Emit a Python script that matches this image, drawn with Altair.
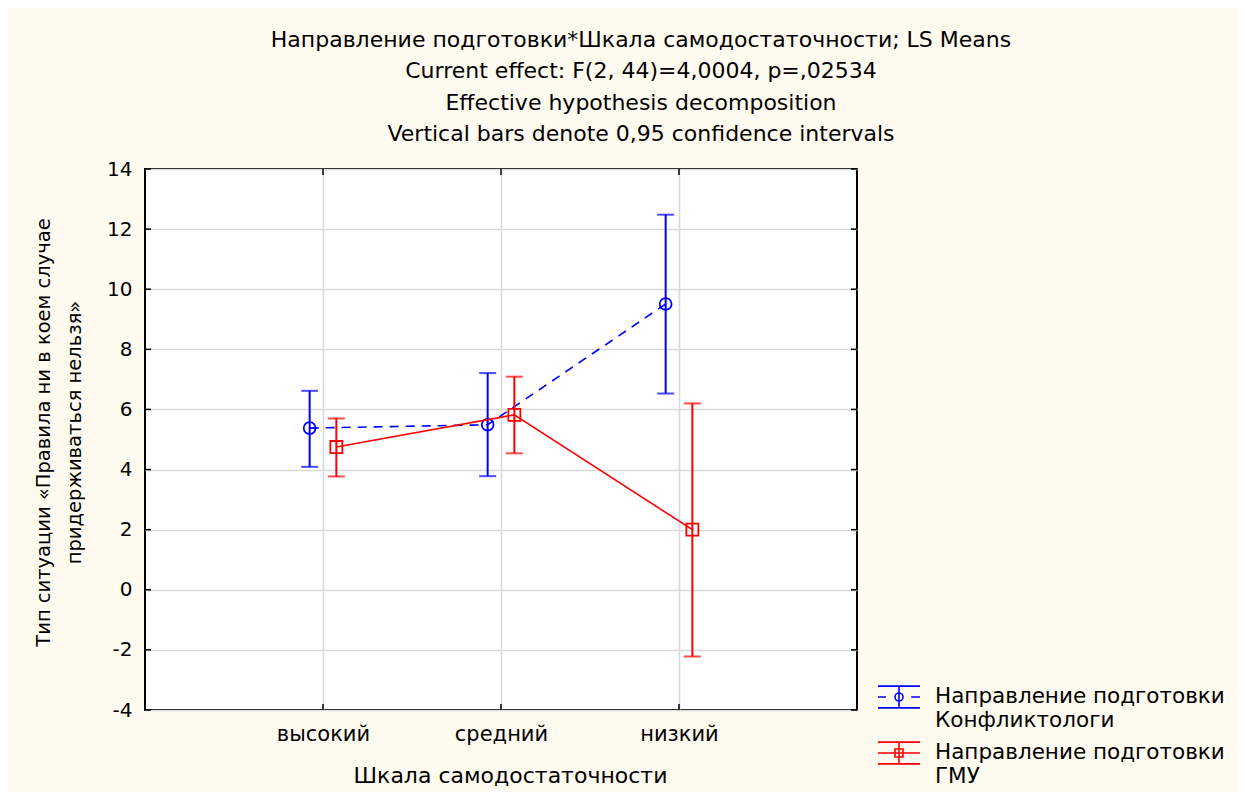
import json
import altair as alt
import pandas as pd

# ---- data ----
categories = ["высокий", "средний", "низкий"]
groups = ["Конфликтологи", "ГМУ"]
konf_mean = [5.38, 5.49, 9.51]
konf_low = [4.09, 3.78, 6.53]
konf_high = [6.62, 7.21, 12.48]
gmu_mean = [4.75, 5.82, 2.00]
gmu_low = [3.77, 4.54, -2.22]
gmu_high = [5.70, 7.09, 6.20]
y_ticks = [-4, -2, 0, 2, 4, 6, 8, 10, 12, 14]
cat_positions = [1, 2, 3]

legend_prefix = "Направление подготовки"
title_lines = [
    "Направление подготовки*Шкала самодостаточности; LS Means",
    "Current effect: F(2, 44)=4,0004, p=,02534",
    "Effective hypothesis decomposition",
    "Vertical bars denote 0,95 confidence intervals",
]
y_title = ["Тип ситуации «Правила ни в коем случае", "придерживаться нельзя»"]
x_title = "Шкала самодостаточности"

BLUE = "#0000FF"
RED = "#FF0000"
FONT = "DejaVu Sans"
offsets = {"Конфликтологи": -0.075, "ГМУ": 0.075}

rows = []
for g, m, lo, hi in [("Конфликтологи", konf_mean, konf_low, konf_high),
                     ("ГМУ", gmu_mean, gmu_low, gmu_high)]:
    for i, c in enumerate(categories):
        rows.append(dict(group=g, label=legend_prefix + "|" + g, cat=c,
                         pos=cat_positions[i] + offsets[g],
                         mean=m[i], low=lo[i], high=hi[i]))
df = pd.DataFrame(rows)
konf = df[df.group == "Конфликтологи"]
gmu = df[df.group == "ГМУ"]
labels = [legend_prefix + "|" + g for g in groups]

ytick_df = pd.DataFrame({"v": y_ticks})
xtick_df = pd.DataFrame({"p": cat_positions})

W, H = 712, 541

label_expr = "[''," + ",".join(json.dumps(c, ensure_ascii=False) for c in categories) + "][datum.value]"

x_scale = alt.Scale(domain=[0, 4], nice=False, zero=False)
y_scale = alt.Scale(domain=[-4, 14], nice=False, zero=False)
x_axis = alt.Axis(values=cat_positions, labelExpr=label_expr, grid=True, ticks=False,
                  domain=False, title=x_title, labelFont=FONT, labelFontSize=21,
                  labelColor="black", labelPadding=13, titleFont=FONT, titleFontSize=22,
                  titleFontWeight="normal", titleColor="black", titleX=365, titleY=65,
                  titleBaseline="middle", titleAlign="center",
                  gridColor="#d9d9d9", gridWidth=1.6)
y_axis = alt.Axis(values=y_ticks, labelExpr="'' + datum.value", grid=True, ticks=False,
                  domain=False, title=y_title,
                  labelFont=FONT, labelFontSize=20, labelColor="black", labelPadding=13,
                  titleFont=FONT, titleFontSize=19.5, titleFontWeight="normal",
                  titleColor="black", titleAngle=270, titleX=-102, titleY=263,
                  titleBaseline="middle", titleAlign="center", titleLineHeight=31,
                  gridColor="#d9d9d9", gridWidth=1.6)


def X(field):
    return alt.X(field, scale=x_scale, axis=x_axis)


def Y(field):
    return alt.Y(field, scale=y_scale, axis=y_axis)


# inner ticks on all four sides
left_ticks = alt.Chart(ytick_df).mark_rule(color="black", strokeWidth=1.5).encode(
    y=Y("v:Q"), x=alt.value(0), x2=alt.value(6))
right_ticks = alt.Chart(ytick_df).mark_rule(color="black", strokeWidth=1.5).encode(
    y=Y("v:Q"), x=alt.value(W - 6), x2=alt.value(W))
top_ticks = alt.Chart(xtick_df).mark_rule(color="black", strokeWidth=1.5).encode(
    x=X("p:Q"), y=alt.value(0), y2=alt.value(6))
bottom_ticks = alt.Chart(xtick_df).mark_rule(color="black", strokeWidth=1.5).encode(
    x=X("p:Q"), y=alt.value(H - 6), y2=alt.value(H))


def series_layers(data, color, shape, size, dash):
    bars = alt.Chart(data).mark_rule(color=color, strokeWidth=2).encode(
        x=X("pos:Q"), y=Y("low:Q"), y2="high:Q")
    cap_lo = alt.Chart(data).mark_tick(color=color, orient="horizontal", size=17,
                                      thickness=2).encode(x=X("pos:Q"), y=Y("low:Q"))
    cap_hi = alt.Chart(data).mark_tick(color=color, orient="horizontal", size=17,
                                      thickness=2).encode(x=X("pos:Q"), y=Y("high:Q"))
    line_kw = dict(color=color, strokeWidth=1.6)
    if dash:
        line_kw["strokeDash"] = dash
    line = alt.Chart(data).mark_line(**line_kw).encode(
        x=X("pos:Q"), y=Y("mean:Q"), order="pos:Q")
    pts = alt.Chart(data).mark_point(shape=shape, filled=False, size=size, color=color,
                                     strokeWidth=1.8, opacity=1).encode(
        x=X("pos:Q"), y=Y("mean:Q"))
    return [bars, cap_lo, cap_hi, line, pts]


# legend glyphs (unit coordinates, x and y in [-1, 1])
path_konf = ("M-1,-0.52H1M-1,0.52H1M0,-0.52V0.52M-1,0H-0.62M0.58,0H1"
             "M-0.19,0A0.19,0.19 0 1,0 0.19,0A0.19,0.19 0 1,0 -0.19,0")
path_gmu = ("M-1,-0.52H1M-1,0.52H1M0,-0.52V0.52M-1,0H1"
            "M-0.19,-0.19H0.19V0.19H-0.19Z")

legend = alt.Legend(title=None, orient="none", legendX=732, legendY=506,
                    symbolSize=1764, symbolStrokeWidth=1.6, symbolOpacity=1,
                    labelExpr="split(datum.label, '|')", labelFont=FONT,
                    labelFontSize=21.5, labelColor="black", labelOffset=14,
                    labelLimit=500, rowPadding=0, padding=0)

phantom = alt.Chart(df).mark_point(filled=False, opacity=0).encode(
    x=X("pos:Q"), y=Y("mean:Q"),
    color=alt.Color("label:N", scale=alt.Scale(domain=labels, range=[BLUE, RED]),
                    legend=legend),
    shape=alt.Shape("label:N", scale=alt.Scale(domain=labels, range=[path_konf, path_gmu]),
                    legend=legend),
)

layers = ([left_ticks, right_ticks, top_ticks, bottom_ticks]
          + series_layers(konf, BLUE, "circle", 140, [9, 7])
          + series_layers(gmu, RED, "square", 145, None)
          + [phantom])

chart = alt.layer(*layers).properties(
    width=W, height=H,
    title=alt.TitleParams(text=title_lines, font=FONT, fontSize=22, fontWeight="normal",
                          color="black", lineHeight=31.5, anchor="middle", dx=140,
                          offset=13),
    padding={"left": 137, "top": 161, "right": 380, "bottom": 82},
    autosize="none",
).configure(background="#FFFBF0").configure_view(
    fill="white", stroke="black", strokeWidth=2)

chart.save("out.html", embed_options={"renderer": "svg", "actions": False})
